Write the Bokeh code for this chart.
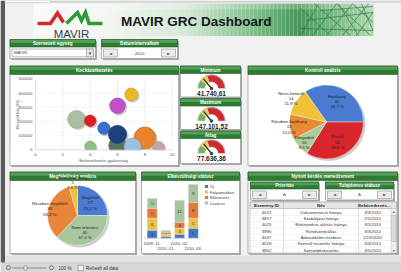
import math
from bokeh.plotting import figure
from bokeh.models import Range1d, ColumnDataSource
from bokeh.core.properties import value
from bokeh.embed import file_html
from bokeh.resources import INLINE

W, H = 401, 272

# ------------------------------------------------------------------ data
dashboard_title = "MAVIR GRC Dashboard"
logo_text = "MAVIR"
org_unit_label = "Szervezeti egység"
org_unit_value = "MAVIR"
period_label = "Dátumintervallum"
period_value = "2010"

bubble_title = "Kockázatkezelés"
bubble_freq = [7.0, 6.0, 3.0, 4.0, 5.0, 6.0, 6.0, 8.0, 7.1, 4.0, 9.0]
bubble_loss = [390000, 310000, 215000, 205000, 152000, 30000, 108000, 84000, 23000, 23000, 18000]
bubble_impact = [20, 24, 27, 18, 19, 27, 28, 33, 26, 17, 18]
bubble_colors = ["#e8b923", "#c04fc8", "#a9bfa3", "#dc1f26", "#3b6fcf", "#56745a",
                 "#1d3f7e", "#e9822a", "#9cc0dc", "#93bf86", "#c7a5a5"]
bubble_x_ticks = [0, 2, 4, 6, 8, 10]
bubble_y_ticks = [0, 100000, 200000, 300000, 400000, 500000]
bubble_x_title = "Bekövetkezési gyakoriság"
bubble_y_title = "Becsült kár (Ft)"

gauge_titles = ["Minimum", "Maximum", "Átlag"]
gauge_values = [41740.61, 147101.52, 77636.36]
gauge_max = [150000, 525000, 275000]
gauge_band_limits = [0.22, 0.39, 1.0]
gauge_band_colors = ["#73b35a", "#eec64a", "#cf2a2e"]

kontroll_title = "Kontroll analízis"
kontroll_labels = ["Hatékony", "Kezelt", "Elfogadott", "Részben hatékony", "Nincs kontroll"]
kontroll_counts = [41, 40, 10, 13, 14]
kontroll_colors = ["#4a7bd0", "#d9262c", "#a8cf9a", "#e88a34", "#efc23a"]

megf_title = "Megfelelőség analízis"
megf_labels = ["Megfelelt", "Nem releváns", "Részben megfelelt", "Nem felelt meg"]
megf_counts = [27, 40, 36, 5]
megf_colors = ["#4a7bd0", "#a9c79f", "#e8853a", "#efc23a"]

status_title = "Elkészültségi státusz"
status_periods = ["2009. 11.", "2010. 01.", "2010. 02.", "2010. 03."]
status_series = ["Új", "Folyamatban", "Ellenőrzés", "Lezárva"]
status_new = [4, 1, 2, 5]
status_progress = [6, 1, 3, 5]
status_review = [5, 1, 3, 8]
status_closed = [5, 1, 11, 9]
status_colors = ["#4472c4", "#e8c24a", "#e07b39", "#a9c5a0"]

issues_title = "Nyitott kérdés menedzsment"
priority_label = "Prioritás"
priority_value = "A"
owner_label = "Tulajdonos státusz"
owner_value = "A"
table_columns = ["Esemény ID", "Név", "Bekövetkezés…"]
issue_ids = ["4012", "3857", "4025", "3996", "4037", "4018", "3902"]
issue_names = ["Dokumentáció hiánya", "Szabályzat hiánya", "Elektronikus aláírás hiánya",
               "Rendszerleállás", "Adatvédelmi incidens", "Kontroll tesztelés hiánya",
               "Szerződéskezelés"]
issue_dates = ["3/3/2010", "2/1/2010", "3/1/2010", "3/3/2010", "2/19/2010", "3/3/2010", "3/5/2010"]

status_bar_zoom = "100 %"
status_bar_text = "Refresh all data"

# ------------------------------------------------------------------ canvas
p = figure(width=W, height=H, x_range=Range1d(0, W), y_range=Range1d(H, 0),
           x_axis_location=None, y_axis_location=None, min_border=0,
           output_backend="svg", toolbar_location=None)
p.grid.visible = False
p.outline_line_color = None
p.background_fill_color = "#f1f1f1"
p.border_fill_color = "#f1f1f1"


def xr(v0, p0, v1, p1):
    k = (v1 - v0) / (p1 - p0)
    s = v0 - p0 * k
    return Range1d(s, s + W * k)


def yr(v0, p0, v1, p1):
    k = (v1 - v0) / (p0 - p1)
    s = v0 - (H - p0) * k
    return Range1d(s, s + H * k)


p.extra_x_ranges = {
    "bx": xr(0, 35, 10, 171.7),
    "bxs": xr(0, 36.6, 10, 173.3),
    "sx": xr(0, 151.7, 1, 165.4),
}
p.extra_y_ranges = {
    "by": yr(0, 149.3, 500000, 78.3),
    "bys": yr(0, 150.9, 500000, 79.9),
    "up": yr(0, 0, -1, 1),
    "sy": yr(0, 237.7, 1, 235.7),
    "ty": yr(0, 211.7, 1, 218.0),
}


def box(l, t, r, b, fill, line=None, lw=1.0, alpha=1.0):
    p.quad(left=[l], right=[r], top=[t], bottom=[b], fill_color=fill,
           fill_alpha=alpha, line_color=line, line_width=lw)


def txt(xs, ys, texts, size=4.5, color="#333333", align="center", baseline="middle",
        bold=False, font="Liberation Sans", angle=0.0, xoff=0, yoff=0,
        xname=None, yname=None):
    kw = {}
    if xname:
        kw["x_range_name"] = xname
    if yname:
        kw["y_range_name"] = yname
    p.text(x=list(xs), y=list(ys), text=list(texts), text_font=value(font),
           text_font_size=f"{size}px", text_color=color, text_align=align,
           text_baseline=baseline, text_font_style="bold" if bold else "normal",
           angle=angle, x_offset=xoff, y_offset=yoff, text_line_height=1.05, **kw)


def panel(l, t, r, b, title, hh=8):
    box(l + 1.5, t + 1.5, r + 1.5, b + 1.5, "#a9a9a9")
    box(l, t, r, b, "#ffffff", "#9d9d9d", 0.8)
    box(l, t, r, t + hh, "#2e7b32", "#1f5f24", 0.6)
    box(l + 0.5, t + 0.5, r - 0.5, t + hh * 0.45, "#74bb77", None, alpha=0.55)
    txt([(l + r) / 2], [t + hh / 2 + 0.3], [title], size=4.6, color="white", bold=True)


def button(l, t, r, b, label):
    box(l, t, r, b, "#ebebeb", "#8f8f8f", 0.6)
    txt([(l + r) / 2], [(t + b) / 2], [label], size=4.2, color="#444444", font="DejaVu Sans")


def mix(c1, c2, t):
    return "#%02x%02x%02x" % tuple(int(round(a + (b - a) * t)) for a, b in zip(c1, c2))


# ------------------------------------------------------------------ frame / chrome
box(0, 0, 4.5, 262, "#5b5b5b")
box(4.5, 0, 50, 2.2, "#ffffff", "#b0b0b0", 0.5)
box(50, 0, 401, 2.2, "#d4d4d4")

# banner gradient
stops = [(0.0, (250, 252, 250)), (0.2, (244, 248, 244)), (0.45, (212, 232, 214)),
         (0.65, (128, 190, 138)), (0.78, (72, 150, 90)), (0.88, (122, 186, 132)),
         (1.0, (178, 216, 180))]
bl, br, bc = [], [], []
for i in range(85):
    t = (i + 0.5) / 85
    for j in range(len(stops) - 1):
        if stops[j][0] <= t <= stops[j + 1][0]:
            f = (t - stops[j][0]) / (stops[j + 1][0] - stops[j][0])
            bc.append(mix(stops[j][1], stops[j + 1][1], f))
            break
    bl.append(33 + i * 4)
    br.append(33 + i * 4 + 4.05)
p.quad(left=bl, right=br, top=[3.3] * 85, bottom=[35.5] * 85, fill_color=bc, line_color=None)
box(100, 3.3, 373, 9, "#ffffff", None, alpha=0.22)
lat = [(300, 35, 318, 3.3), (312, 35, 336, 3.3), (326, 35, 352, 3.3), (342, 35, 368, 3.3),
       (356, 35, 372.5, 12), (300, 8, 330, 35), (314, 3.3, 350, 35), (336, 3.3, 370, 35),
       (352, 3.3, 372.5, 22), (305, 20, 372.5, 12), (300, 28, 372.5, 30), (320, 10, 372.5, 6),
       (338, 3.3, 358, 35), (361, 3.3, 372.5, 30)]
p.segment(x0=[s[0] for s in lat], y0=[s[1] for s in lat], x1=[s[2] for s in lat],
          y1=[s[3] for s in lat], line_color="#2c7040", line_width=0.8, line_alpha=0.8)

# logo
p.line(x=[37, 50, 57, 63], y=[23, 23, 12.5, 22], line_color="#d42a2a", line_width=3.6,
       line_join="miter")
p.line(x=[66, 77, 81, 85, 88.5, 102], y=[23, 12, 20, 12, 23, 23], line_color="#2e9a3c",
       line_width=3.6, line_join="miter")
txt([71], [33.3], [logo_text], size=11.5, color="#3a3a3a")
txt([120.5], [21.3], [dashboard_title], size=13.5, color="#161616", align="left", bold=True)

# selector panels
panel(9.5, 39, 95, 58, org_unit_label, hh=7.5)
box(11.5, 48.5, 93, 56.3, "#ffffff", "#8a8a8a", 0.6)
box(86, 48.5, 93, 56.3, "#e6e6e6", "#8a8a8a", 0.6)
txt([89.5], [52.4], ["▾"], size=5, color="#444444", font="DejaVu Sans")
txt([13.5], [52.4], [org_unit_value], size=4.3, color="#444444", align="left")

panel(101, 39, 177, 58, period_label, hh=7.5)
button(103, 48.5, 117, 56.5, "◄")
button(161, 48.5, 175, 56.5, "►")
txt([139], [52.5], [period_value], size=4.3, color="#444444")

# ------------------------------------------------------------------ bubble chart
panel(9.5, 65.5, 178, 165, bubble_title, hh=8.5)
n_xt, n_yt = len(bubble_x_ticks), len(bubble_y_ticks)
p.segment(x0=bubble_x_ticks[1:], y0=[0] * (n_xt - 1), x1=bubble_x_ticks[1:],
          y1=[bubble_y_ticks[-1]] * (n_xt - 1), line_color="#e4e4e4", line_width=0.6,
          x_range_name="bx", y_range_name="by")
p.segment(x0=[0] * (n_yt - 1), y0=bubble_y_ticks[1:], x1=[bubble_x_ticks[-1]] * (n_yt - 1),
          y1=bubble_y_ticks[1:], line_color="#f0f0f0", line_width=0.6,
          x_range_name="bx", y_range_name="by")
src_b = ColumnDataSource(dict(x=bubble_freq, y=bubble_loss,
                              s=[v * 0.67 for v in bubble_impact], c=bubble_colors))
p.scatter("x", "y", size="s", source=src_b, fill_color="#555555", fill_alpha=0.3,
          line_color=None, x_range_name="bxs", y_range_name="bys")
p.scatter("x", "y", size="s", source=src_b, fill_color="c", line_color="#555555",
          line_alpha=0.45, line_width=0.4, x_range_name="bx", y_range_name="by")
box(10.2, 149.7, 177.2, 164.2, "#ffffff")
p.segment(x0=[0, 0], y0=[0, 0], x1=[bubble_x_ticks[-1], 0], y1=[0, bubble_y_ticks[-1]],
          line_color="#c8c8c8", line_width=0.6, x_range_name="bx", y_range_name="by")
txt(bubble_x_ticks, [0] * n_xt, [str(v) for v in bubble_x_ticks], size=4.3,
    color="#555555", baseline="top", yoff=3, xname="bx", yname="by")
txt([0] * n_yt, bubble_y_ticks, [str(v) for v in bubble_y_ticks], size=4.3,
    color="#555555", align="right", xoff=-3, xname="bx", yname="by")
txt([103], [160.3], [bubble_x_title], size=4.2, color="#555555")
txt([16.5], [114], [bubble_y_title], size=4.2, color="#555555", angle=math.pi / 2)

# ------------------------------------------------------------------ gauges
g_tops = [65.5, 98, 130.5]
g_bottoms = [96.5, 129, 163]
for i in range(3):
    gt, gb = g_tops[i], g_bottoms[i]
    panel(180, gt, 240, gb, gauge_titles[i], hh=7.5)
    cx, cy = 211, gt + 7.5 + 15
    lims = [0.0] + gauge_band_limits
    sa = [math.pi * (1 - lims[k + 1]) for k in range(3)]
    ea = [math.pi * (1 - lims[k]) for k in range(3)]
    p.annular_wedge(x=[cx] * 3, y=[-cy] * 3, inner_radius=6.5, outer_radius=13.5,
                    inner_radius_units="screen", outer_radius_units="screen",
                    start_angle=sa, end_angle=ea, fill_color=gauge_band_colors,
                    line_color="#ffffff", line_width=0.4, y_range_name="up")
    p.arc(x=[cx], y=[-cy], radius=13.8, radius_units="screen", start_angle=0,
          end_angle=math.pi, line_color="#8a8a8a", line_width=0.6, y_range_name="up")
    frac = gauge_values[i] / gauge_max[i]
    p.ray(x=[cx], y=[-cy], length=12.5, length_units="screen",
          angle=[math.pi * (1 - frac)], line_color="#303030", line_width=1.3,
          y_range_name="up")
    p.scatter(x=[cx], y=[-cy], size=3.5, fill_color="#444444", line_color=None,
              y_range_name="up")
    s = f"{gauge_values[i]:,.2f}".replace(",", " ").replace(".", ",").replace(" ", ".")
    txt([cx], [cy + 5.2], [s], size=6.5, color="#222222", bold=True)

# ------------------------------------------------------------------ pies


def pie(cx, cy, r, counts, colors, labels, start_deg, lab_r, fs=4.3):
    n = len(counts)
    total = float(sum(counts))
    p.circle(x=[cx + 2], y=[-(cy + 2)], radius=r, radius_units="screen",
             fill_color="#6f6f6f", fill_alpha=0.35, line_color=None, y_range_name="up")
    a = start_deg
    starts, ends = [], []
    for c in counts:
        span = 360.0 * c / total
        ends.append(math.radians(a))
        starts.append(math.radians(a - span))
        a -= span
    p.wedge(x=[cx] * n, y=[-cy] * n, radius=r, radius_units="screen",
            start_angle=starts, end_angle=ends, fill_color=colors,
            line_color="#ffffff", line_width=0.4, y_range_name="up")
    lx, ly, lt = [], [], []
    for k in range(n):
        mid = (starts[k] + ends[k]) / 2
        lx.append(cx + lab_r[k] * r * math.cos(mid))
        ly.append(cy - lab_r[k] * r * math.sin(mid))
        pct = f"{100.0 * counts[k] / total:.1f} %".replace(".", ",")
        lt.append(f"{labels[k]}\n{counts[k]}\n{pct}")
    txt(lx, ly, lt, size=fs, color="#222222")


panel(247.5, 65.5, 397, 165, kontroll_title, hh=8.5)
pie(326, 121.5, 37, kontroll_counts, kontroll_colors, kontroll_labels, 125,
    [0.62, 0.62, 0.82, 1.02, 1.15])

panel(9.5, 171.5, 135, 253, megf_title, hh=8.5)
pie(77, 215, 30, megf_counts, megf_colors, megf_labels, 90, [0.6, 0.62, 0.95, 1.12])

# ------------------------------------------------------------------ stacked bars
panel(141, 171.5, 239, 253, status_title, hh=8.5)
stackers = ["s0", "s1", "s2", "s3"]
src_s = ColumnDataSource(dict(x=list(range(len(status_periods))), s0=status_new,
                              s1=status_progress, s2=status_review, s3=status_closed))
p.vbar_stack(stackers, x="x", width=0.73, color=status_colors, source=src_s,
             line_color="#ffffff", line_width=0.3, x_range_name="sx", y_range_name="sy")
series = [status_new, status_progress, status_review, status_closed]
bx_, by_, bt_ = [], [], []
for j in range(len(status_periods)):
    base = 0
    for k in range(4):
        v = series[k][j]
        if v >= 3:
            bx_.append(j)
            by_.append(base + v / 2)
            bt_.append(str(v))
        base += v
txt(bx_, by_, bt_, size=4.3, color="#333333", xname="sx", yname="sy")
p.segment(x0=[-0.6], y0=[0], x1=[3.6], y1=[0], line_color="#bbbbbb", line_width=0.5,
          x_range_name="sx", y_range_name="sy")
idx = list(range(len(status_periods)))
txt(idx[0::2], [0] * len(idx[0::2]), status_periods[0::2], size=4.2, color="#444444",
    baseline="top", yoff=2.5, xname="sx", yname="sy")
txt(idx[1::2], [0] * len(idx[1::2]), status_periods[1::2], size=4.2, color="#444444",
    baseline="top", yoff=8, xname="sx", yname="sy")
leg_y = [186 + 5.5 * k for k in range(len(status_series))]
p.scatter(x=[206] * 4, y=leg_y, marker="square", size=3.2, fill_color=status_colors,
          line_color=None)
txt([209.5] * 4, leg_y, status_series, size=4.2, color="#444444", align="left")

# ------------------------------------------------------------------ table
panel(247.5, 171.5, 397, 253, issues_title, hh=8.5)
panel(250, 181.5, 318, 199.5, priority_label, hh=7)
button(252, 190.5, 266, 198, "◄")
button(302, 190.5, 316, 198, "►")
txt([284], [194.3], [priority_value], size=4.3, color="#555555")
panel(325, 181.5, 393, 199.5, owner_label, hh=7)
button(327, 190.5, 341, 198, "◄")
button(377, 190.5, 391, 198, "►")
txt([359], [194.3], [owner_value], size=4.3, color="#555555")

box(249.5, 201.5, 396, 252.5, "#ffffff", "#9a9a9a", 0.5)
box(249.5, 201.5, 396, 208, "#e6e6e6", "#9a9a9a", 0.5)
col_x = [266, 320.5, 374]
txt(col_x, [204.8] * 3, table_columns, size=4.4, color="#222222", bold=True)
nrow = len(issue_ids)
p.segment(x0=[249.5] * nrow, y0=[i + 0.5 for i in range(nrow)], x1=[390.5] * nrow,
          y1=[i + 0.5 for i in range(nrow)], line_color="#e2e2e2", line_width=0.5,
          y_range_name="ty")
p.segment(x0=[283, 358], y0=[201.5, 201.5], x1=[283, 358], y1=[252.5, 252.5],
          line_color="#bdbdbd", line_width=0.5)
rows = list(range(nrow))
txt([col_x[0]] * nrow, rows, issue_ids, size=4.3, color="#333333", yname="ty")
txt([col_x[1]] * nrow, rows, issue_names, size=4.3, color="#333333", yname="ty")
txt([col_x[2] - 2] * nrow, rows, issue_dates, size=4.3, color="#333333", yname="ty")
box(390.5, 208, 396, 252.5, "#efefef", "#b5b5b5", 0.4)
box(391, 215, 395.5, 241, "#dcdcdc", "#a5a5a5", 0.4)
txt([393.2, 393.2], [211, 249.5], ["▴", "▾"], size=4, color="#555555", font="DejaVu Sans")

# ------------------------------------------------------------------ status bar
box(4.5, 255, 401, 262, "#e3e3e3")
p.segment(x0=[0], y0=[262.6], x1=[401], y1=[262.6], line_color="#a9a9a9", line_width=0.8)
box(0, 263, 401, 272, "#d8d8d8")
p.segment(x0=[12], y0=[267.5], x1=[46], y1=[267.5], line_color="#777777", line_width=0.8)
box(23.5, 265.5, 26.5, 269.5, "#f4f4f4", "#666666", 0.5)
p.scatter(x=[8, 51], y=[267.2, 267.2], marker="circle", size=4, fill_color=None,
          line_color="#555555", line_width=0.7)
txt([58], [267.5], [status_bar_zoom], size=4.6, color="#333333", align="left")
box(77.5, 264.8, 83, 270.2, "#f2f2f2", "#666666", 0.5)
txt([85.5], [267.5], [status_bar_text], size=4.6, color="#333333", align="left")

open("out.html", "w").write(file_html(p, INLINE))
